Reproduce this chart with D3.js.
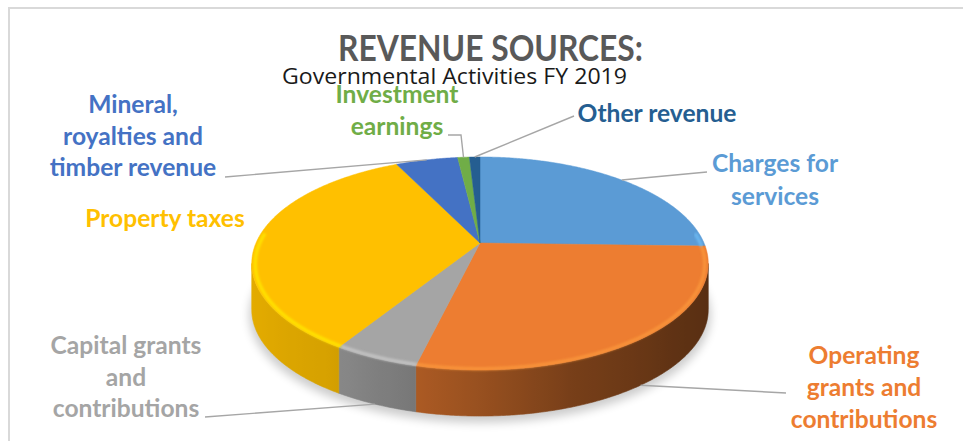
<!DOCTYPE html>
<html><head><meta charset="utf-8">
<script src="https://cdn.jsdelivr.net/npm/d3@7"></script>
<style>body{margin:0;background:#fff}svg{display:block}</style>
</head><body>
<svg id="c" width="963" height="441"></svg>
<script>
// ---- data ----
const categories = ["Charges for services", "Operating grants and contributions", "Capital grants and contributions", "Property taxes", "Mineral, royalties and timber revenue", "Investment earnings", "Other revenue"];
const values = [25.5, 28.3, 5.1, 34.0, 5.3, 1.0, 0.9];
const labelLines = [["Charges for", "services"], ["Operating", "grants and", "contributions"], ["Capital grants", "and", "contributions"], ["Property taxes"], ["Mineral,", "royalties and", "timber revenue"], ["Investment", "earnings"], ["Other revenue"]];
const titleText = "REVENUE SOURCES:";
const subtitleText = "Governmental Activities FY 2019";

// ---- style / layout ----
const palette = ["#5b9bd5", "#ed7d31", "#a5a5a5", "#ffc000", "#4472c4", "#70ad47", "#255e91"];
const labelLayout = [
  {x: 775, ys: [172, 205], leader: [[707, 172]]},
  {x: 864, ys: [364, 396, 428], leader: [[786, 393]]},
  {x: 126, ys: [354, 386, 417], leader: [[205, 417]]},
  {x: 165, ys: [227], leader: null},
  {x: 133, ys: [113, 145, 176], leader: [[225, 177]]},
  {x: 397, ys: [103, 135], leader: [[461, 135], [448, 135]]},
  {x: 657, ys: [122], leader: [[574, 116]]}
];

const svg = d3.select("#c");
const defs = svg.append("defs");
defs.append("filter").attr("id", "sh").attr("x", "-20%").attr("y", "-20%").attr("width", "140%").attr("height", "140%")
  .append("feGaussianBlur").attr("stdDeviation", 5);
defs.append("filter").attr("id", "bl").append("feGaussianBlur").attr("stdDeviation", 1.2);

svg.append("rect").attr("x", 9).attr("y", 8).attr("width", 1000).attr("height", 500)
  .attr("fill", "#fff").attr("stroke", "#d9d9d9").attr("stroke-width", 2);

// projection of a tilted disc with perspective
const CX = 480, CY = 243, SX = 224, SY = 102.6, K = 0.1925, DEPTH = 46;
function proj(t, r, z) {
  const u = r * Math.sin(t), v = r * Math.cos(t), w = 1 + K * v;
  return [CX + SX * u / w, CY - SY * v / w + z];
}
const steps = (a0, a1) => {
  const n = Math.max(2, Math.ceil(Math.abs(a1 - a0) / (Math.PI / 360)));
  return d3.range(n + 1).map(i => a0 + (a1 - a0) * i / n);
};
const color = d3.scaleOrdinal().domain(categories).range(palette);
const arcs = d3.pie().sort(null).value(d => d)(values);
const line = d3.line();

// shadow
const full = steps(0, 2 * Math.PI);
svg.append("path")
  .attr("d", line(full.map(t => proj(t, 1.01, DEPTH + 5))) + "Z")
  .attr("fill", "#000").attr("opacity", 0.2).attr("filter", "url(#sh)");

// walls (front, visible part), shaded with a horizontal gradient
const tMin = Math.acos(-K), tMax = 2 * Math.PI - tMin;
const shade = d3.scaleLinear().domain([95, 130, 160, 180, 193, 215, 240, 265])
  .range([0.36, 0.40, 0.50, 0.64, 0.72, 0.84, 0.88, 0.9]).clamp(true);
const walls = svg.append("g");
arcs.forEach((a, i) => {
  const s = Math.max(a.startAngle, tMin), e = Math.min(a.endAngle, tMax);
  if (s >= e) return;
  const c = d3.rgb(color(categories[i]));
  const ts = steps(s, e);
  const x1 = proj(s, 1, 0)[0], x2 = proj(e, 1, 0)[0];
  const g = defs.append("linearGradient").attr("id", "wg" + i).attr("gradientUnits", "userSpaceOnUse")
    .attr("x1", x1).attr("x2", x2).attr("y1", 0).attr("y2", 0);
  ts.filter((t, j) => j % 4 === 0 || j === ts.length - 1).forEach(t => {
    const f = shade(t * 180 / Math.PI);
    g.append("stop").attr("offset", Math.max(0, Math.min(1, (proj(t, 1, 0)[0] - x1) / (x2 - x1))))
      .attr("stop-color", d3.rgb(c.r * f, c.g * f, c.b * f).toString());
  });
  const pts = ts.map(t => proj(t, 1, 0)).concat(ts.slice().reverse().map(t => proj(t, 1, DEPTH)));
  walls.append("path").attr("d", line(pts) + "Z").attr("fill", `url(#wg${i})`)
    .attr("stroke", `url(#wg${i})`).attr("stroke-width", 0.6);
});

// top faces
const tops = svg.append("g");
arcs.forEach((a, i) => {
  const pts = [proj(0, 0, 0)].concat(steps(a.startAngle, a.endAngle).map(t => proj(t, 1, 0)));
  const col = color(categories[i]);
  tops.append("path").attr("d", line(pts) + "Z").attr("fill", col).attr("stroke", col).attr("stroke-width", 0.5);
});
// bevel highlight on front rim
arcs.forEach((a, i) => {
  const s = Math.max(a.startAngle, tMin - 0.3), e = Math.min(a.endAngle, tMax + 0.3);
  if (s >= e) return;
  const pts = steps(s, e).map(t => proj(t, 0.985, 1));
  svg.append("path").attr("d", line(pts)).attr("fill", "none")
    .attr("stroke", d3.rgb(color(categories[i])).brighter(0.7)).attr("stroke-width", 3.5)
    .attr("opacity", 0.6).attr("filter", "url(#bl)");
});

// leader lines
const lg = svg.append("g").attr("fill", "none").attr("stroke", "#a6a6a6").attr("stroke-width", 1.4);
arcs.forEach((a, i) => {
  const L = labelLayout[i];
  if (!L.leader) return;
  const mid = (a.startAngle + a.endAngle) / 2;
  const front = Math.cos(mid) < -K;
  const start = proj(mid, 1, front ? DEPTH : 0);
  lg.append("path").attr("d", line([start].concat(L.leader)));
});

// labels
const tg = svg.append("g").attr("font-family", "Lato, 'Noto Sans', sans-serif").attr("font-weight", 700)
  .attr("font-size", 24.6).attr("text-anchor", "middle");
labelLines.forEach((lines, i) => {
  const L = labelLayout[i];
  lines.forEach((txt, k) => {
    tg.append("text").attr("x", L.x).attr("y", L.ys[k]).attr("fill", color(categories[i])).text(txt);
  });
});

// titles
svg.append("text").attr("x", 338).attr("y", 61).attr("font-family", "Lato, sans-serif").attr("font-weight", 700)
  .attr("font-size", 37).attr("fill", "#595959").attr("textLength", 305).attr("lengthAdjust", "spacingAndGlyphs").text(titleText);
svg.append("text").attr("x", 282).attr("y", 84).attr("font-family", "'Open Sans', sans-serif")
  .attr("font-size", 22).attr("fill", "#1a1a1a").attr("textLength", 345).attr("lengthAdjust", "spacingAndGlyphs").text(subtitleText);
</script>
</body></html>
